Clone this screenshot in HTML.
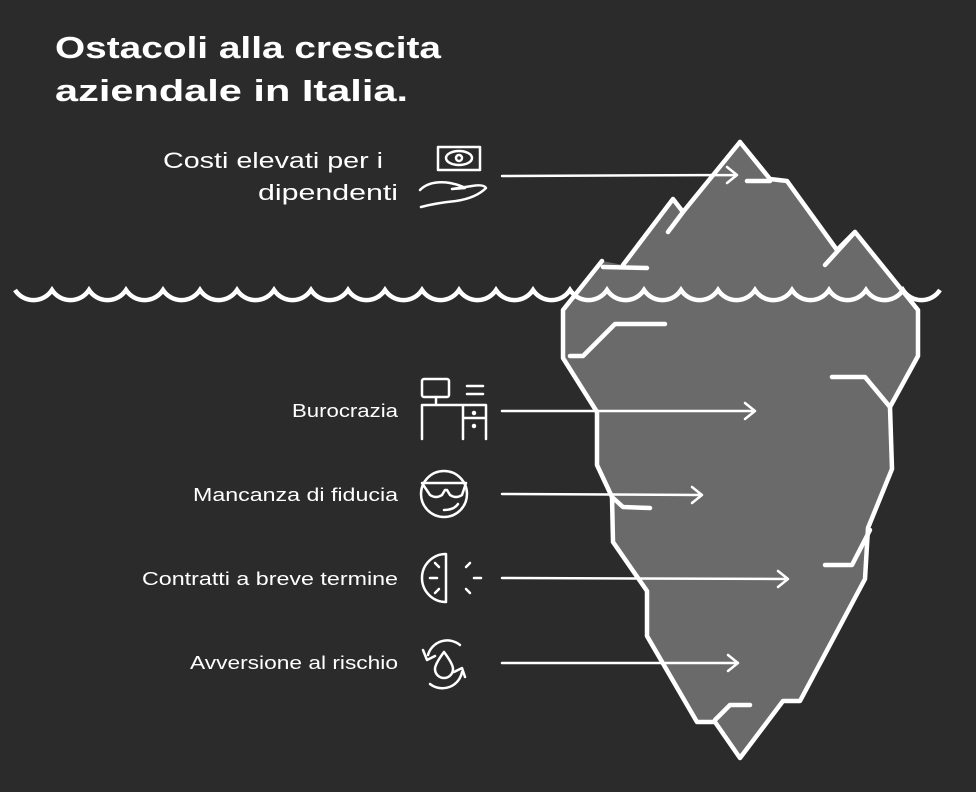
<!DOCTYPE html>
<html><head><meta charset="utf-8"><style>
html,body{margin:0;padding:0;background:#2b2b2b;}
svg{display:block}
text{font-family:"Liberation Sans","DejaVu Sans",sans-serif;fill:#fff}
</style></head><body>
<svg width="976" height="792" viewBox="0 0 976 792" xmlns="http://www.w3.org/2000/svg">
<rect width="976" height="792" fill="#2b2b2b"/>
<text x="55" y="58" font-size="31" font-weight="bold" textLength="386" lengthAdjust="spacingAndGlyphs">Ostacoli alla crescita</text>
<text x="55" y="101" font-size="31" font-weight="bold" textLength="353" lengthAdjust="spacingAndGlyphs">aziendale in Italia.</text>

<polygon fill="#6a6a6a" points="740,142 770,179 787,181 837,250 855,232 918,310 918,356 890,407 892,469 868,528 865,579 800,701 783,701 740,758 715,722 697,722 647,636 647,591 613,542 612,497 597,465 597,412 563,358 563,310 602,261 623,265 673,199 683,212"/>
<g fill="none" stroke="#fff" stroke-width="4.5" stroke-linejoin="round" stroke-linecap="round">
<polyline points="740,142 770,179 787,181 837,250 855,232 918,310 918,356 890,407 892,469 868,528 865,579 800,701 783,701 740,758 715,722 697,722 647,636 647,591 613,542 612,497 597,465 597,412 563,358 563,310 602,261"/>
<polyline points="623,265 673,199 683,212 740,142"/>
<polyline points="668,232 683,212"/>
<polyline points="603,267 647,268"/>
<polyline points="747,181 770,181"/>
<polyline points="825,265 855,232"/>
<polyline points="570,356 583,356 615,324 665,324"/>
<polyline points="832,377 865,377 890,407"/>
<polyline points="612,497 623,507 650,508"/>
<polyline points="825,565 852,565 870,530"/>
<polyline points="715,720 730,705 750,705"/>
</g>
<path fill="none" stroke="#fff" stroke-width="4.5" d="M15 290 a22 22 0 0 0 37 0 a22 22 0 0 0 37 0 a22 22 0 0 0 37 0 a22 22 0 0 0 37 0 a22 22 0 0 0 37 0 a22 22 0 0 0 37 0 a22 22 0 0 0 37 0 a22 22 0 0 0 37 0 a22 22 0 0 0 37 0 a22 22 0 0 0 37 0 a22 22 0 0 0 37 0 a22 22 0 0 0 37 0 a22 22 0 0 0 37 0 a22 22 0 0 0 37 0 a22 22 0 0 0 37 0 a22 22 0 0 0 37 0 a22 22 0 0 0 37 0 a22 22 0 0 0 37 0 a22 22 0 0 0 37 0 a22 22 0 0 0 37 0 a22 22 0 0 0 37 0 a22 22 0 0 0 37 0 a22 22 0 0 0 37 0 a22 22 0 0 0 37 0 a22 22 0 0 0 37 0"/>

<g fill="none" stroke="#fff" stroke-width="2.5" stroke-linecap="round" stroke-linejoin="round">
<path d="M502 176 L737 175 M727 167 L737 175 L727 183"/>
<path d="M502 411 L755 411 M745 403 L755 411 L745 419"/>
<path d="M502 494 L702 495 M692 487 L702 495 L692 503"/>
<path d="M502 578 L788 579 M778 571 L788 579 L778 587"/>
<path d="M502 663 L738 663 M728 655 L738 663 L728 671"/>
</g>

<g font-size="22">
<text x="163" y="168" textLength="220" lengthAdjust="spacingAndGlyphs">Costi elevati per i</text>
<text x="258" y="200" textLength="140" lengthAdjust="spacingAndGlyphs">dipendenti</text>
</g>
<g font-size="18">
<text x="292" y="417" textLength="106" lengthAdjust="spacingAndGlyphs">Burocrazia</text>
<text x="193" y="501" textLength="205" lengthAdjust="spacingAndGlyphs">Mancanza di fiducia</text>
<text x="142" y="585" textLength="256" lengthAdjust="spacingAndGlyphs">Contratti a breve termine</text>
<text x="190" y="669" textLength="208" lengthAdjust="spacingAndGlyphs">Avversione al rischio</text>
</g>

<g fill="none" stroke="#fff" stroke-width="2.5" stroke-linecap="round" stroke-linejoin="round">
<rect x="438" y="147" width="42" height="23"/>
<ellipse cx="459" cy="158" rx="13" ry="7"/>
<circle cx="459" cy="158" r="3"/>
<path d="M420 190 q10 -10 30 -7 q10 2 15 5 l-13 1 M452 189 l20 -3 q12 -2 14 2 q-10 10 -30 13 q-20 2 -35 6"/>
<rect x="422" y="379" width="27" height="18" rx="2"/>
<path d="M436 397 v6 M422 405 h64 M422 405 v34 M463 405 v34 M486 405 v34 M463 418 h23 M467 386 h16 M467 394 h16"/>
<circle cx="474" cy="413" r="1" fill="#fff"/><circle cx="474" cy="426" r="1" fill="#fff"/>
<circle cx="444" cy="494" r="23"/>
<path d="M422 483 h44 l-4 12 q-6 4 -12 0 l-3 -5 h-2 l-3 5 q-6 4 -12 0 z M444 510 q10 0 14 -6"/>
<path d="M446 554 v48 a24 24 0 0 1 0 -48 z M430 578 h7 M435 563 l4 4 M435 593 l4 -4 M470 563 l-4 4 M474 578 h7 M470 593 l-4 -4"/>
<path d="M444 652 q-9 12 -9 17 a9 9 0 0 0 18 0 q0 -5 -9 -17 z"/>
<path d="M428 655 a20 20 0 0 1 32 -10 M462 672 a20 20 0 0 1 -32 12 M423 650 l4 10 l8 -4 M465 677 l-3 -9 l-8 4"/>
</g>
</svg>
</body></html>
